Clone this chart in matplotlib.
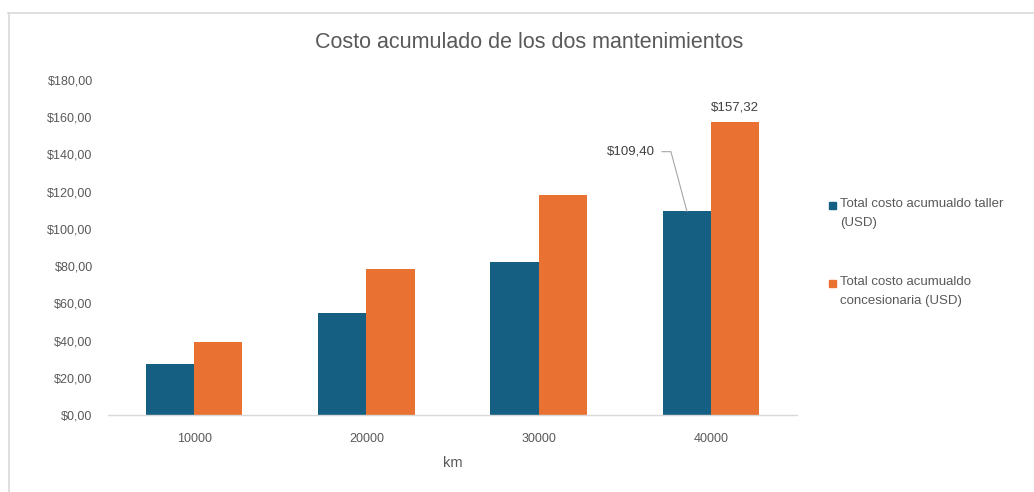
import matplotlib.pyplot as plt
import numpy as np
from matplotlib.lines import Line2D
from matplotlib.patches import Rectangle

km = ["10000", "20000", "30000", "40000"]
taller = [27.35, 54.70, 82.05, 109.40]
concesionaria = [39.33, 78.66, 117.99, 157.32]
yticks = [0, 20, 40, 60, 80, 100, 120, 140, 160, 180]
series_names = ["Total costo acumualdo taller\n(USD)", "Total costo acumualdo\nconcesionaria (USD)"]

BLUE = "#156082"
ORANGE = "#E97132"
TEXT = "#595959"
W, H = 1034, 492


def money(v: float) -> str:
    return f"${v:,.2f}".replace(".", ",")


plt.rcParams["font.family"] = ["Liberation Sans", "DejaVu Sans"]

fig = plt.figure(figsize=(W / 100, H / 100), dpi=100)
ax = fig.add_axes([0.1044, 0.1565, 0.6666, 0.6809])

x = np.arange(len(km))
w = 0.28
ax.bar(x - w / 2, taller, w, color=BLUE, zorder=2)
ax.bar(x + w / 2, concesionaria, w, color=ORANGE, zorder=2)

ax.set_xlim(-0.5, len(km) - 0.5)
ax.set_ylim(0, 180)
ax.set_xticks(x)
ax.set_xticklabels(km)
ax.set_yticks(yticks)
ax.set_yticklabels([money(v) for v in yticks])
ax.tick_params(axis="both", length=0, labelsize=9, labelcolor=TEXT)
ax.tick_params(axis="x", pad=13)
ax.tick_params(axis="y", pad=11)
for side in ("top", "right", "left"):
    ax.spines[side].set_visible(False)
ax.spines["bottom"].set_color("#D9D9D9")
ax.spines["bottom"].set_linewidth(1.0)
ax.set_xlabel("km", fontsize=10.5, color=TEXT, labelpad=8)

# value labels on the last group only
ax.annotate(money(concesionaria[-1]), (x[-1] + w / 2, concesionaria[-1]),
            xytext=(0, 6), textcoords="offset points", ha="center", va="bottom",
            fontsize=9.5, color="#404040")
ax.annotate(money(taller[-1]), (x[-1] - w / 2, taller[-1]),
            xytext=(-23, 43), textcoords="offset points", ha="right", va="center",
            fontsize=9.5, color="#404040",
            arrowprops=dict(arrowstyle="-", color="#A6A6A6", lw=0.8, shrinkA=3, shrinkB=0,
                            connectionstyle="angle,angleA=0,angleB=105,rad=0"))

fig.text(0.5116, 1 - 43 / H, "Costo acumulado de los dos mantenimientos",
         ha="center", va="center", fontsize=15.5, color=TEXT)

# legend on the right: square aligned with the first line of each label
for i, (name, color) in enumerate(zip(series_names, [BLUE, ORANGE])):
    y0 = 205 + i * 78
    fig.add_artist(Rectangle((829 / W, 1 - (y0 + 4) / H), 7 / W, 7 / H,
                             transform=fig.transFigure, color=color))
    fig.text(840 / W, 1 - (y0 - 7) / H, name, ha="left", va="top",
             fontsize=9.5, color=TEXT, linespacing=1.75)

# thin chart-area border on the top and left edges
fig.add_artist(Line2D([8 / W, 1], [1 - 12.5 / H] * 2, transform=fig.transFigure,
                      color="#D9D9D9", lw=1.2))
fig.add_artist(Line2D([8.5 / W] * 2, [0, 1 - 12.5 / H], transform=fig.transFigure,
                      color="#D9D9D9", lw=1.2))

fig.savefig("out.png", dpi=100)
